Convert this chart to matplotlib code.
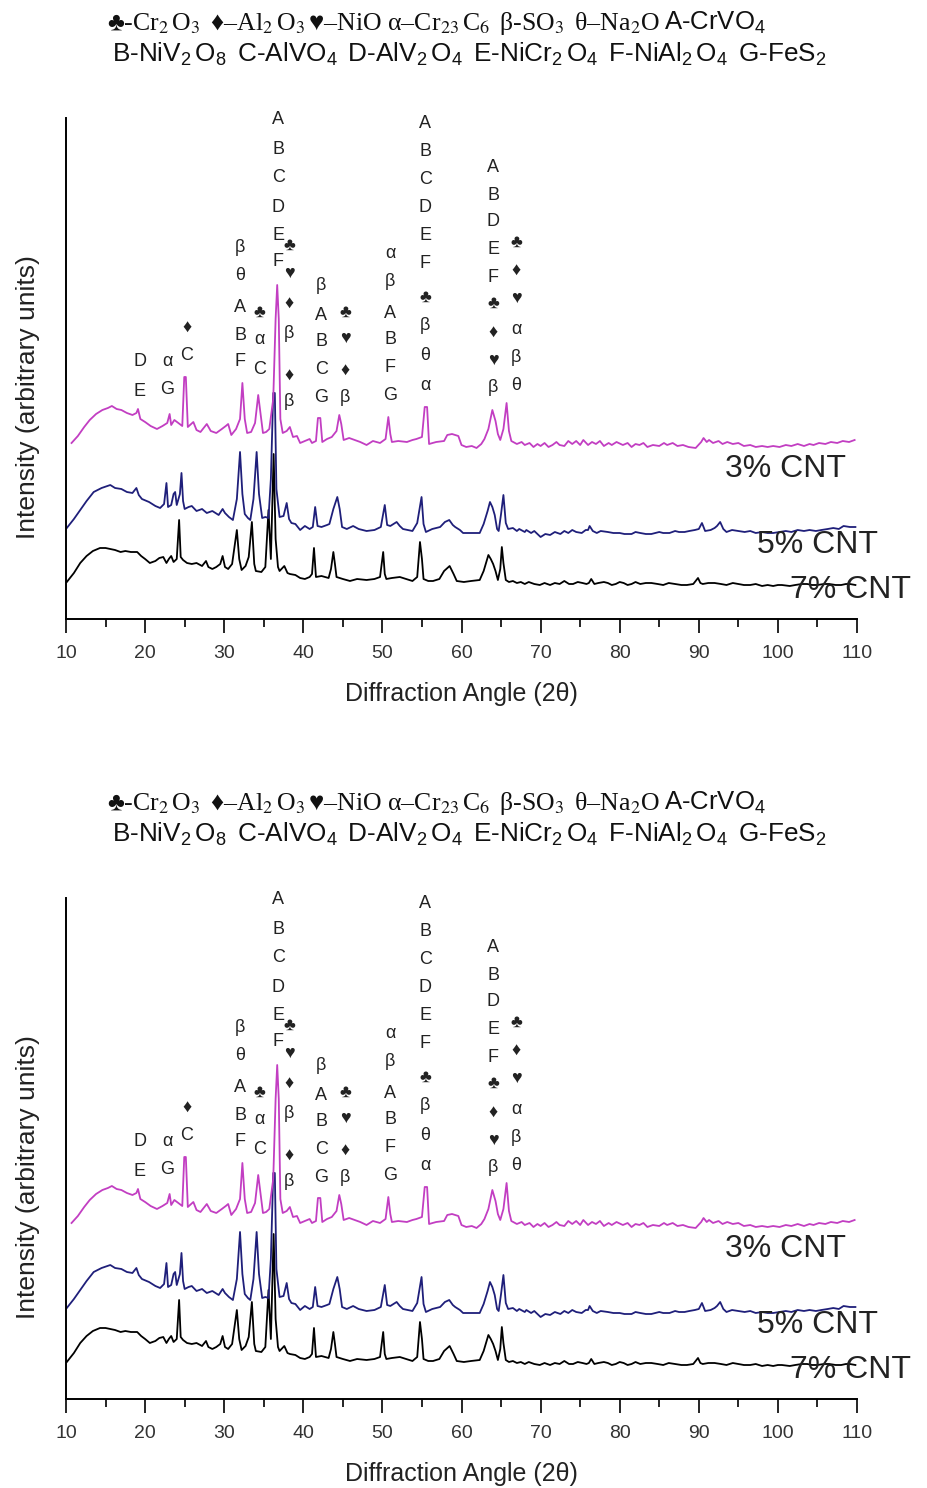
import matplotlib
matplotlib.use("Agg")
import matplotlib.pyplot as plt
from matplotlib.ticker import MultipleLocator

# XRD traces (2theta, intensity in arbitrary units)
mag_x = [10.7, 11.5, 12.3, 13.0, 13.8, 14.6, 15.3, 15.8, 16.4, 17.0, 17.7, 18.4, 18.9, 19.1, 19.4,
         20.0, 20.7, 21.5, 22.2, 22.8, 23.1, 23.3, 23.7, 24.2, 24.7, 24.95, 25.15, 25.4, 26.1, 26.5,
         27.0, 27.5, 27.8, 28.3, 29.0, 29.7, 30.2, 30.5, 30.9, 31.5, 32.0, 32.3, 32.6, 32.9, 33.4,
         33.9, 34.3, 34.6, 34.9, 35.3, 35.7, 36.2, 36.5, 36.7, 36.9, 37.1, 37.4, 37.9, 38.3, 38.7,
         39.2, 39.6, 40.2, 40.8, 41.1, 41.6, 41.85, 42.15, 42.4, 43.0, 43.6, 44.2, 44.55, 44.8, 45.1,
         45.8, 46.5, 47.2, 48.0, 48.8, 49.7, 50.4, 50.75, 51.0, 51.2, 52.0, 53.1, 53.8, 54.3, 55.0,
         55.35, 55.65, 55.9, 56.8, 57.8, 58.2, 58.8, 59.6, 60.0, 60.6, 61.3, 61.9, 62.5, 62.9, 63.4,
         63.9, 64.3, 64.6, 64.9, 65.3, 65.7, 66.0, 66.3, 67.0, 67.6, 68.0, 68.6, 69.1, 69.6, 70.0,
         70.5, 71.0, 71.5, 72.0, 72.4, 73.0, 73.5, 74.0, 74.5, 75.0, 75.4, 76.0, 76.5, 77.0, 77.5,
         78.0, 78.6, 79.0, 79.6, 80.4, 81.0, 81.5, 82.0, 82.5, 83.0, 83.5, 84.2, 85.0, 85.6, 86.0,
         86.7, 87.3, 88.0, 88.7, 89.6, 90.3, 90.6, 91.0, 91.3, 91.8, 92.5, 93.0, 93.6, 94.3, 95.0,
         95.7, 96.5, 97.2, 98.0, 98.7, 99.4, 100.2, 101.0, 101.7, 102.5, 103.3, 104.0, 104.5, 105.2,
         106.0, 106.7, 107.5, 108.2, 109.0, 109.7]
mag_y = [176, 183, 192, 199, 205, 209, 211, 213, 210, 209, 206, 204, 206, 210, 200,
         197, 193, 190, 193, 196, 205, 194, 199, 196, 193, 242, 242, 192, 197, 189,
         187, 192, 195, 188, 186, 190, 193, 195, 184, 190, 200, 236, 200, 186, 187,
         196, 224, 205, 186, 187, 190, 220, 300, 334, 300, 200, 186, 188, 192, 182,
         183, 176, 178, 180, 176, 178, 201, 201, 177, 180, 182, 188, 204, 195, 179,
         181, 179, 177, 174, 178, 176, 180, 202, 185, 177, 178, 177, 179, 180, 182,
         212, 212, 175, 177, 178, 184, 185, 183, 174, 172, 173, 171, 175, 180, 190,
         209, 198, 185, 179, 190, 216, 188, 178, 175, 177, 174, 176, 172, 175, 173,
         176, 172, 174, 177, 174, 173, 178, 175, 178, 174, 179, 174, 177, 175, 178,
         173, 176, 174, 177, 174, 176, 172, 175, 174, 176, 172, 174, 173, 176, 174,
         176, 173, 174, 172, 171, 177, 181, 177, 179, 176, 178, 175, 177, 175, 176,
         173, 174, 172, 173, 172, 173, 172, 174, 173, 175, 173, 175, 174, 176,
         175, 177, 176, 178, 177, 179]

blue_x = [10.1, 11.0, 11.8, 12.6, 13.5, 14.5, 15.6, 16.2, 17.0, 17.7, 18.4, 18.9, 19.2, 19.6, 20.5,
          21.3, 21.9, 22.4, 22.7, 22.9, 23.3, 23.6, 23.8, 24.0, 24.4, 24.6, 24.8, 25.0, 25.5, 25.9,
          26.5, 27.2, 27.8, 28.5, 29.3, 29.8, 30.1, 30.6, 31.1, 31.6, 32.0, 32.3, 32.6, 33.0, 33.3,
          33.7, 34.1, 34.4, 34.8, 35.2, 35.6, 35.9, 36.2, 36.4, 36.6, 37.0, 37.5, 37.9, 38.2, 38.5,
          39.0, 39.6, 40.2, 40.8, 41.2, 41.5, 41.8, 42.3, 43.0, 43.3, 43.8, 44.3, 44.6, 44.9, 45.5,
          46.3, 47.0, 48.0, 49.0, 49.8, 50.3, 50.6, 51.0, 51.8, 52.2, 52.6, 53.2, 53.8, 54.4, 54.95,
          55.2, 55.5, 56.3, 57.3, 57.9, 58.45, 58.9, 59.2, 59.8, 60.2, 61.2, 62.3, 62.8, 63.3, 63.6,
          63.9, 64.2, 64.5, 64.7, 65.0, 65.3, 65.6, 65.9, 66.5, 67.0, 67.3, 68.0, 68.2, 68.8, 69.2,
          70.0, 70.6, 71.2, 71.8, 72.5, 73.0, 73.5, 74.0, 74.5, 75.2, 75.7, 76.0, 76.2, 76.6, 77.1,
          77.6, 78.5, 79.2, 80.0, 80.6, 81.5, 82.0, 82.6, 83.3, 84.0, 85.0, 85.5, 86.3, 87.0, 87.5,
          88.2, 88.8, 89.5, 90.0, 90.4, 90.8, 91.5, 92.0, 92.3, 92.7, 93.1, 93.5, 94.2, 95.0, 95.8,
          96.5, 97.2, 98.0, 98.7, 99.4, 100.2, 101.0, 101.7, 102.5, 103.3, 104.0, 104.8, 105.5, 106.3,
          107.0, 107.7, 108.3, 109.1, 109.8]
blue_y = [91, 100, 109, 118, 127, 131, 134, 131, 130, 127, 126, 131, 124, 120, 117,
          113, 111, 115, 136, 112, 114, 125, 127, 114, 125, 146, 118, 110, 112, 113,
          108, 110, 106, 108, 104, 110, 106, 102, 99, 120, 167, 125, 105, 101, 99,
          120, 167, 125, 101, 102, 101, 140, 226, 226, 130, 102, 103, 116, 100, 96,
          95, 89, 93, 90, 92, 112, 93, 92, 94, 95, 110, 122, 110, 92, 90,
          93, 90, 88, 89, 92, 114, 94, 93, 97, 93, 90, 89, 88, 96, 122,
          95, 87, 90, 92, 97, 99, 94, 92, 89, 86, 86, 86, 95, 108, 117,
          112, 104, 90, 88, 105, 124, 96, 90, 91, 88, 90, 87, 89, 86, 88,
          82, 85, 84, 87, 85, 88, 86, 89, 87, 86, 89, 89, 93, 88, 86,
          88, 87, 86, 86, 85, 85, 87, 86, 85, 85, 87, 86, 86, 88, 87,
          87, 88, 89, 90, 96, 88, 89, 91, 93, 97, 90, 87, 89, 88, 87,
          88, 86, 87, 86, 86, 87, 88, 87, 89, 88, 89, 88, 89, 90,
          91, 90, 93, 92, 92]

black_x = [10.1, 11.0, 11.8, 12.6, 13.4, 14.3, 15.0, 15.6, 16.2, 16.9, 17.5, 18.2, 19.0, 19.5, 20.0,
           20.6, 21.3, 21.8, 22.3, 22.7, 23.0, 23.3, 23.6, 24.0, 24.3, 24.5, 24.8, 25.3, 25.9, 26.5,
           27.2, 27.7, 28.0, 28.5, 29.0, 29.5, 29.8, 30.1, 30.5, 31.0, 31.6, 31.9, 32.2, 32.7, 33.1,
           33.5, 33.8, 34.0, 34.7, 35.2, 35.6, 35.9, 36.25, 36.5, 36.8, 37.0, 37.6, 38.0, 38.3, 39.0,
           39.6, 40.2, 40.8, 41.1, 41.35, 41.6, 42.3, 43.2, 43.5, 43.8, 44.0, 44.2, 45.0, 45.9, 46.8,
           48.0, 49.0, 49.7, 50.1, 50.3, 50.5, 51.2, 52.2, 53.0, 53.8, 54.4, 54.75, 55.0, 55.2, 55.8,
           56.4, 57.2, 57.8, 58.5, 59.0, 59.4, 60.3, 61.2, 62.3, 62.8, 63.4, 63.7, 64.0, 64.3, 64.6,
           64.9, 65.1, 65.3, 65.6, 66.0, 66.5, 67.0, 67.5, 68.0, 68.5, 69.2, 69.9, 70.5, 71.2, 71.8,
           72.4, 73.0, 73.6, 74.1, 74.7, 75.3, 75.8, 76.1, 76.4, 76.8, 77.3, 78.0, 78.5, 79.0, 79.5,
           80.0, 80.5, 81.0, 81.5, 82.0, 82.6, 83.3, 84.0, 84.8, 85.5, 86.2, 87.0, 87.8, 88.5, 89.3,
           89.9, 90.2, 90.5, 91.2, 92.0, 92.8, 93.5, 94.3, 95.0, 95.7, 96.5, 97.2, 98.0, 98.7, 99.4,
           100.0, 100.5, 101.5, 102.2, 103.0, 103.7, 104.3, 105.0, 105.8, 106.5, 107.3, 108.0, 108.6,
           109.1, 109.8]
black_y = [37, 46, 56, 63, 68, 71, 71, 70, 69, 67, 68, 67, 67, 63, 60,
           56, 58, 61, 62, 56, 60, 63, 57, 60, 99, 62, 59, 56, 55, 56,
           53, 58, 52, 50, 52, 55, 63, 52, 50, 55, 89, 60, 49, 53, 62,
           97, 55, 48, 47, 52, 109, 60, 165, 80, 52, 48, 53, 46, 45, 44,
           41, 40, 42, 45, 71, 42, 43, 41, 50, 67, 55, 42, 40, 38, 40,
           39, 40, 42, 67, 45, 40, 41, 42, 40, 38, 42, 77, 60, 40, 38,
           38, 40, 48, 53, 45, 38, 37, 38, 39, 48, 64, 60, 55, 48, 39,
           50, 72, 56, 39, 37, 38, 36, 37, 35, 37, 35, 34, 36, 34, 36,
           35, 38, 35, 35, 37, 36, 35, 36, 40, 35, 36, 37, 36, 34, 35,
           37, 36, 34, 35, 37, 35, 36, 36, 35, 34, 36, 35, 34, 34, 35,
           41, 36, 35, 36, 36, 35, 34, 36, 35, 34, 34, 35, 33, 34, 33,
           34, 34, 33, 34, 35, 35, 34, 34, 35, 35, 34, 34, 35,
           35, 34]

series_names = ["3% CNT", "5% CNT", "7% CNT"]

# phase marks over the peaks
ann_x = [19.35, 22.8, 25.25, 32.0, 34.5, 36.85, 38.2, 42.25, 45.3, 51.0, 55.4, 64.0, 66.9]
ann_y = [[257, 227], [257, 229], [292, 264], [371, 344, 312, 284, 257], [307, 279, 249],
         [499, 469, 441, 412, 384, 357], [374, 346, 316, 286, 244, 217],
         [334, 304, 277, 249, 221], [307, 281, 249, 221], [366, 337, 306, 279, 251, 224],
         [496, 467, 439, 412, 384, 356, 322, 294, 264, 234],
         [452, 424, 397, 369, 342, 316, 287, 259, 232], [377, 349, 321, 289, 262, 234]]
ann_txt = [["D", "E"], ["α", "G"], ["♦", "C"], ["β", "θ", "A", "B", "F"], ["♣", "α", "C"],
           ["A", "B", "C", "D", "E", "F"], ["♣", "♥", "♦", "β", "♦", "β"],
           ["β", "A", "B", "C", "G"], ["♣", "♥", "♦", "β"], ["α", "β", "A", "B", "F", "G"],
           ["A", "B", "C", "D", "E", "F", "♣", "β", "θ", "α"],
           ["A", "B", "D", "E", "F", "♣", "♦", "♥", "β"], ["♣", "♦", "♥", "α", "β", "θ"]]

key1_serif = r"♣-Cr$_2\,$O$_3\,$ ♦–Al$_2\,$O$_3\,$♥–NiO α–Cr$_{23}\,$C$_6\,$ β-SO$_3\,$ θ–Na$_2$O"
key1_sans = r"A-CrVO$_4$"
key2 = (r"B-NiV$_2\,$O$_8\,$ C-AlVO$_4\,$ D-AlV$_2\,$O$_4\,$ E-NiCr$_2\,$O$_4\,$ "
        r"F-NiAl$_2\,$O$_4\,$ G-FeS$_2$")

plt.rcParams['mathtext.fontset'] = 'custom'
plt.rcParams['mathtext.rm'] = 'Liberation Sans'
plt.rcParams['mathtext.it'] = 'Liberation Sans:italic'
plt.rcParams['mathtext.bf'] = 'Liberation Sans:bold'
SANS = ['Liberation Sans', 'DejaVu Sans']
SERIF = ['Liberation Serif', 'DejaVu Serif', 'DejaVu Sans']

W, H = 927, 1488
fig = plt.figure(figsize=(W / 100, H / 100), dpi=100)


def draw_panel(dy):
    ax = fig.add_axes([66 / W, (H - 619 - dy) / H, 791 / W, 501 / H])
    ax.plot(black_x, black_y, color="black", lw=1.3)
    ax.plot(blue_x, blue_y, color="#1f1f7a", lw=1.3)
    ax.plot(mag_x, mag_y, color="#c23ec2", lw=1.3)
    ax.set_xlim(10, 110)
    ax.set_ylim(0, 501)
    ax.spines["top"].set_visible(False)
    ax.spines["right"].set_visible(False)
    ax.spines["left"].set_linewidth(1.4)
    ax.spines["bottom"].set_linewidth(1.4)
    ax.set_yticks([])
    ax.xaxis.set_major_locator(MultipleLocator(10))
    ax.xaxis.set_minor_locator(MultipleLocator(5))
    ax.tick_params(axis="x", which="major", direction="out", length=10, width=1.2, pad=9,
                   labelsize=14, labelcolor="#333333")
    ax.tick_params(axis="x", which="minor", direction="out", length=6, width=1.2)
    for lab in ax.get_xticklabels():
        lab.set_family(SANS)
    ax.set_xlabel("Diffraction Angle (2θ)", family=SANS, fontsize=18, labelpad=14, color="#222222")
    ax.set_ylabel("Intensity (arbitrary units)", family=SANS, fontsize=19, color="#222222")
    ax.yaxis.set_label_coords(-0.033, 0.443)

    for x, ys, ts in zip(ann_x, ann_y, ann_txt):
        for y, t in zip(ys, ts):
            ax.text(x, y, t, ha="center", va="center", fontsize=13, family=SANS, color="#222222")

    ax.text(93.3, 150, series_names[0], fontsize=23, va="center", family=SANS, color="#222222")
    ax.text(97.4, 74, series_names[1], fontsize=23, va="center", family=SANS, color="#222222")
    ax.text(101.5, 29, series_names[2], fontsize=23, va="center", family=SANS, color="#222222")

    fig.text(107 / W, 1 - (30 + dy) / H, key1_serif, family=SERIF, math_fontfamily="stix",
             fontsize=18.5, va="baseline", ha="left", color="#111111")
    fig.text(664 / W, 1 - (30 + dy) / H, key1_sans, family=SANS, fontsize=18.5,
             va="baseline", ha="left", color="#111111")
    fig.text(112 / W, 1 - (62 + dy) / H, key2, family=SANS, fontsize=18.8,
             va="baseline", ha="left", color="#111111")


draw_panel(0)
draw_panel(780)

fig.savefig("out.png", dpi=100)
